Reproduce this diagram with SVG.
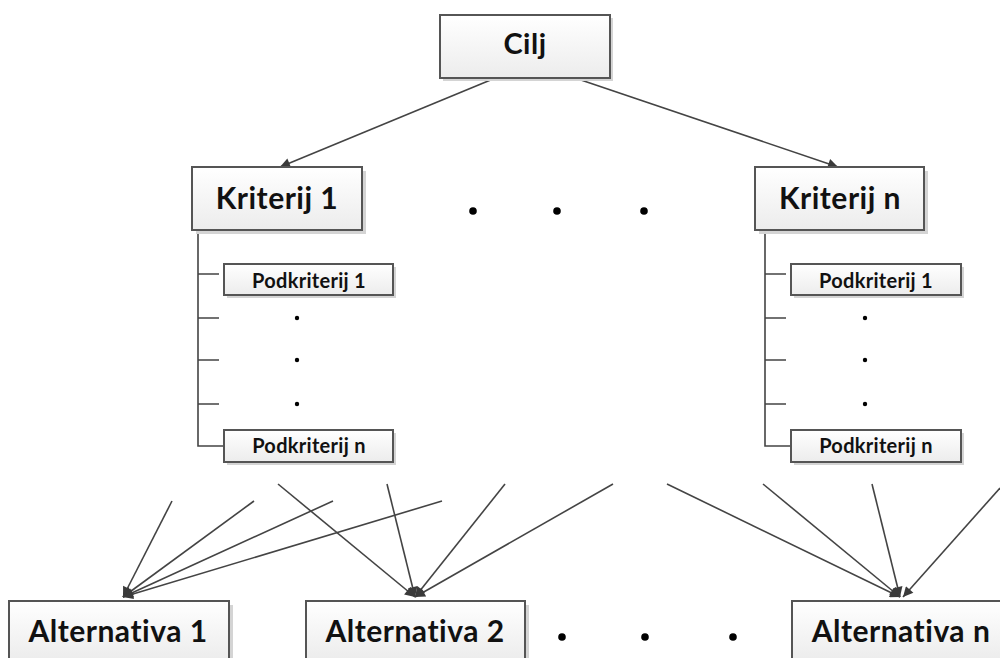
<svg xmlns="http://www.w3.org/2000/svg" width="1000" height="658" viewBox="0 0 1000 658">
<defs>
<linearGradient id="g" x1="0" y1="0" x2="0" y2="1"><stop offset="0" stop-color="#ffffff"/><stop offset="1" stop-color="#ececec"/></linearGradient>
<marker id="ah" viewBox="0 0 10 10" refX="10" refY="5" markerWidth="12" markerHeight="10" markerUnits="userSpaceOnUse" orient="auto"><path d="M0,0 L10,5 L0,10 z" fill="#3a3a3a"/></marker>
</defs>
<style>
.box{fill:url(#g);stroke:#555;stroke-width:2}
.sh{fill:#d4d4d4}
.t{font-family:Lato,"Open Sans",sans-serif;font-weight:bold;fill:#111;text-anchor:middle}
.big{font-size:30px;letter-spacing:0.5px}
.mid{font-size:29px;letter-spacing:0.5px}
.sm{font-size:20px;letter-spacing:0.3px}
.c{stroke:#444;stroke-width:1.6;fill:none;marker-end:url(#ah)}
.tr{stroke:#444;stroke-width:1.6;fill:none}
.dot{fill:#000}
</style>
<rect width="1000" height="658" fill="#fff"/>

<g id="connectors">
<line class="c" x1="493" y1="79" x2="280" y2="167"/>
<line class="c" x1="578" y1="79" x2="838" y2="167"/>
<line class="c" x1="172" y1="501" x2="123" y2="597"/>
<line class="c" x1="254" y1="501" x2="123" y2="597"/>
<line class="c" x1="333" y1="501" x2="123" y2="597"/>
<line class="c" x1="442" y1="501" x2="123" y2="597"/>
<line class="c" x1="278" y1="484" x2="415" y2="597"/>
<line class="c" x1="387" y1="484" x2="415" y2="597"/>
<line class="c" x1="505" y1="484" x2="415" y2="597"/>
<line class="c" x1="613" y1="484" x2="415" y2="597"/>
<line class="c" x1="667" y1="484" x2="900" y2="597"/>
<line class="c" x1="763" y1="484" x2="900" y2="597"/>
<line class="c" x1="872" y1="484" x2="900" y2="597"/>
<line class="c" x1="1000" y1="488" x2="903" y2="597"/>
<path class="tr" d="M198,230 V446 H225 M198,274 H219 M198,318 H219 M198,360 H219 M198,404 H219"/>
<path class="tr" d="M765,230 V446 H791 M765,274 H786 M765,318 H786 M765,360 H786 M765,404 H786"/>
</g>

<g id="cilj">
<rect class="sh" x="443" y="18" width="170" height="63"/>
<rect class="box" x="440" y="15" width="170" height="63"/>
<text class="t mid" x="525" y="54">Cilj</text>
</g>

<g id="kriterij1">
<rect class="sh" x="196" y="171" width="170" height="63"/>
<rect class="box" x="192" y="167" width="170" height="63"/>
<text class="t big" x="277" y="209">Kriterij 1</text>
</g>

<g id="kriterijn">
<rect class="sh" x="759" y="171" width="169" height="63"/>
<rect class="box" x="755" y="167" width="169" height="63"/>
<text class="t big" x="840" y="209">Kriterij n</text>
</g>

<g id="k1-podkriterij1">
<rect class="sh" x="227" y="267" width="169" height="31"/>
<rect class="box" x="224" y="264" width="169" height="31"/>
<text class="t sm" x="309" y="288">Podkriterij 1</text>
</g>
<g id="k1-podkriterijn">
<rect class="sh" x="227" y="433" width="169" height="32"/>
<rect class="box" x="224" y="430" width="169" height="32"/>
<text class="t sm" x="309" y="453">Podkriterij n</text>
</g>
<g id="kn-podkriterij1">
<rect class="sh" x="794" y="267" width="170" height="31"/>
<rect class="box" x="791" y="264" width="170" height="31"/>
<text class="t sm" x="876" y="288">Podkriterij 1</text>
</g>
<g id="kn-podkriterijn">
<rect class="sh" x="794" y="433" width="170" height="32"/>
<rect class="box" x="791" y="430" width="170" height="32"/>
<text class="t sm" x="876" y="453">Podkriterij n</text>
</g>

<g id="alternativa1">
<rect class="sh" x="13" y="605" width="220" height="60"/>
<rect class="box" x="9" y="601" width="220" height="60"/>
<text class="t big" x="118" y="642">Alternativa 1</text>
</g>
<g id="alternativa2">
<rect class="sh" x="310" y="605" width="219" height="60"/>
<rect class="box" x="306" y="601" width="219" height="60"/>
<text class="t big" x="415" y="642">Alternativa 2</text>
</g>
<g id="alternativan">
<rect class="sh" x="796" y="605" width="220" height="60"/>
<rect class="box" x="792" y="601" width="220" height="60"/>
<text class="t big" x="901" y="642">Alternativa n</text>
</g>

<g id="dots">
<circle class="dot" cx="473" cy="211" r="3.8"/>
<circle class="dot" cx="557" cy="211" r="3.8"/>
<circle class="dot" cx="644" cy="211" r="3.8"/>
<circle class="dot" cx="297" cy="318" r="2.2"/>
<circle class="dot" cx="297" cy="360" r="2.2"/>
<circle class="dot" cx="297" cy="404" r="2.2"/>
<circle class="dot" cx="865" cy="318" r="2.2"/>
<circle class="dot" cx="865" cy="360" r="2.2"/>
<circle class="dot" cx="865" cy="404" r="2.2"/>
<circle class="dot" cx="562" cy="637" r="3.8"/>
<circle class="dot" cx="645" cy="637" r="3.8"/>
<circle class="dot" cx="733" cy="637" r="3.8"/>
</g>
</svg>
